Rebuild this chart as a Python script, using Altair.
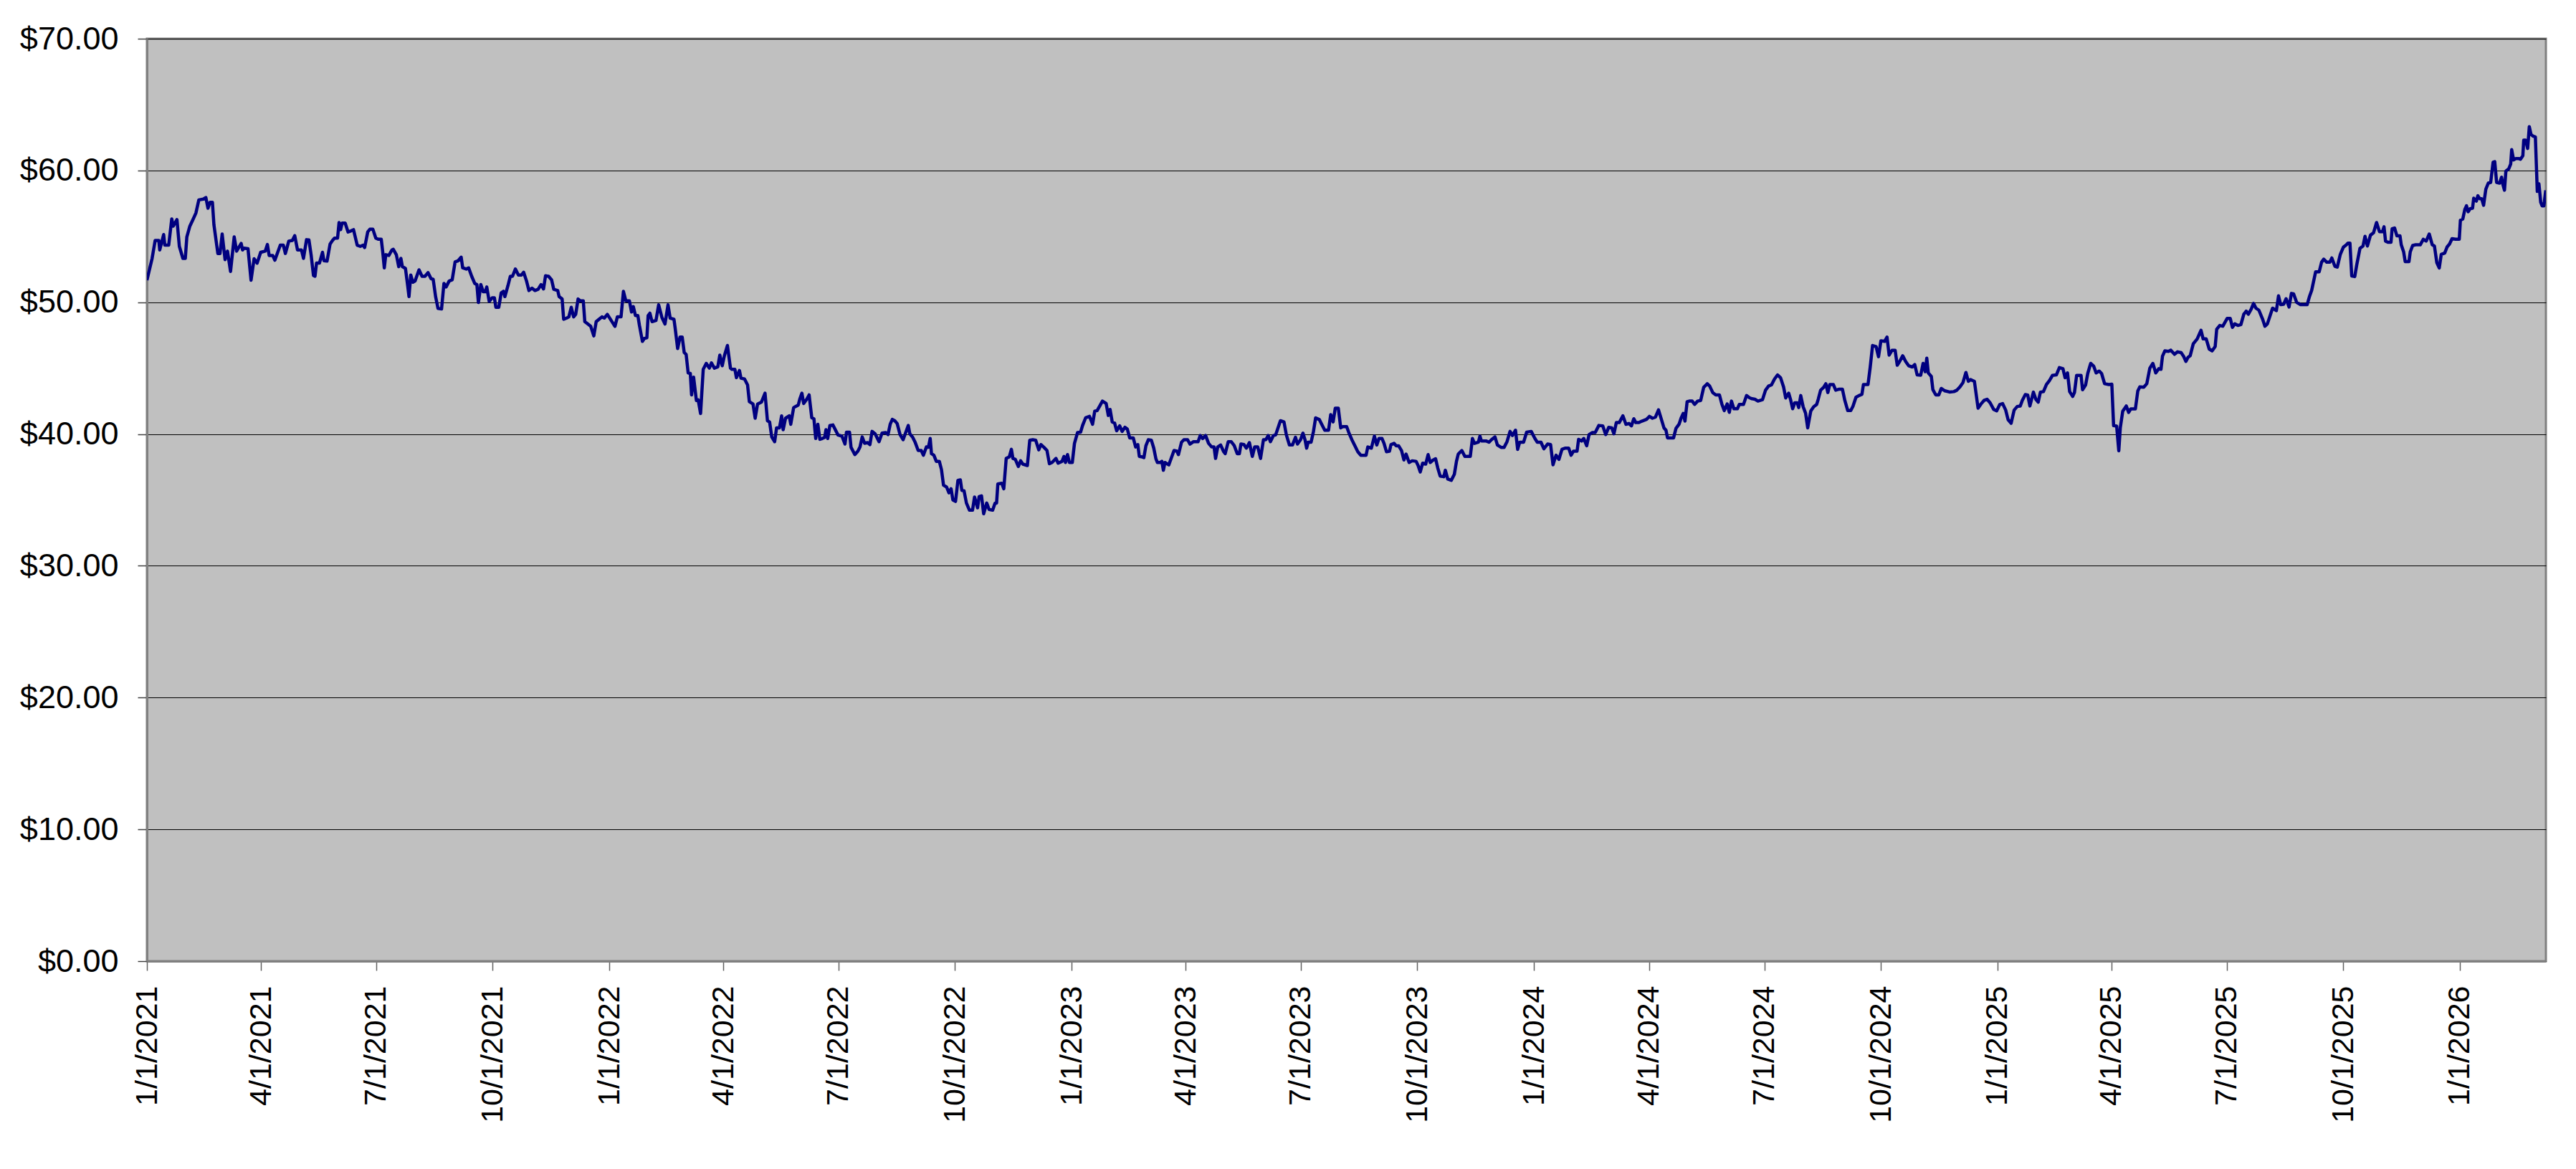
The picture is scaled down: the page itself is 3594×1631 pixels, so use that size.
import altair as alt
import pandas as pd

# Daily closing price; x = days since 1/1/2021
days_2021 = [0, 4.1, 6.5, 9.4, 10.1, 13.2, 14.1, 17.2, 19.6, 20.8, 23.7, 25.6, 28.4, 30.3, 31.5, 33.9, 36.3, 38.7,
             41.0, 44.6, 46.5, 48.2, 49.8, 51.7, 52.9, 56.0, 57.7, 59.4, 61.7, 63.6, 66.0, 68.9, 70.8, 74.4, 75.5,
             76.7, 79.8, 82.2, 84.6, 87.0, 89.8, 93.4, 95.1, 96.5, 99.3, 101.0, 105.3, 107.7, 109.3, 112.0, 114.8,
             116.7, 118.9, 122.0, 123.6, 126.0, 127.9, 129.6, 131.5, 132.7, 133.9, 136.2, 138.6, 139.8, 142.2,
             144.6, 146.5, 148.1, 150.5, 151.7, 152.9, 154.1, 156.5, 158.8, 161.2, 163.1, 166.0, 168.4, 170.7,
             171.9, 174.3, 176.0, 178.4, 180.7, 182.6, 185.0, 186.2, 187.4, 188.6, 191.0, 193.4, 194.5, 196.9,
             198.8, 200.5, 201.7, 204.1, 206.0, 206.9, 208.3, 210.0, 211.7, 214.8, 217.2, 219.5, 221.9, 224.3,
             226.0, 227.9, 229.8, 232.6, 234.5, 236.2, 238.6, 241.0, 243.3, 245.7, 248.1, 249.3, 252.1, 254.0,
             256.4, 258.8, 260.5, 261.7, 263.6, 265.5, 267.1, 268.3, 270.2, 272.6, 274.3, 275.5, 277.8, 279.7,
             281.4, 282.6, 285.0, 286.9, 288.6, 290.9, 293.3, 295.7, 297.4, 299.7, 301.6, 304.0, 306.4, 308.8,
             311.2, 313.1, 314.7, 317.1, 319.5, 321.2, 324.3, 325.4, 327.8, 329.0, 331.4, 333.1, 335.0, 336.9,
             338.5, 340.4, 342.1, 344.5, 345.7, 348.1, 350.4, 352.8, 354.7, 356.9, 359.2, 361.1, 363.5]
price_2021 = [51.67, 53.33, 54.69, 54.69, 53.97, 55.14, 54.33, 54.33, 56.32, 55.78, 56.27, 54.24, 53.33, 53.33,
              54.96, 55.78, 56.27, 56.78, 57.77, 57.83, 57.95, 57.14, 57.59, 57.59, 55.87, 53.70, 53.70, 55.18,
              53.24, 53.88, 52.34, 54.96, 53.88, 54.46, 53.97, 54.10, 54.06, 51.67, 53.30, 52.97, 53.79, 53.88,
              54.38, 53.55, 53.55, 53.19, 54.33, 54.33, 53.70, 54.64, 54.69, 55.05, 53.97, 53.97, 53.33, 54.75,
              54.73, 53.61, 52.03, 51.98, 52.97, 52.97, 53.79, 53.15, 53.12, 54.42, 54.69, 54.87, 54.87, 56.05,
              55.51, 56.01, 56.01, 55.33, 55.42, 55.51, 54.33, 54.24, 54.33, 54.15, 55.33, 55.54, 55.54, 54.87,
              54.78, 54.78, 53.79, 52.61, 53.61, 53.55, 53.97, 54.02, 53.61, 52.70, 53.33, 52.70, 52.57, 51.16,
              50.43, 52.07, 51.52, 51.61, 52.46, 51.97, 51.97, 52.25, 51.79, 51.74, 50.43, 49.53, 49.49, 51.43,
              51.16, 51.61, 51.70, 53.06, 53.15, 53.42, 52.61, 52.52, 52.61, 51.97, 51.43, 51.34, 49.98, 51.34,
              50.80, 50.80, 51.16, 50.07, 50.34, 50.34, 49.62, 49.62, 50.71, 50.83, 50.43, 51.25, 51.97, 51.97,
              52.52, 52.07, 52.07, 52.28, 51.61, 50.89, 51.07, 50.89, 50.98, 51.34, 51.01, 52.01, 51.97, 51.70,
              50.98, 50.89, 50.43, 50.25, 48.71, 48.80, 48.89, 49.62, 48.89, 49.08, 50.25, 50.11, 50.11, 48.53,
              48.35, 48.17, 47.45, 48.53, 48.71, 48.89, 48.80, 49.08]

days_2022 = [369.5, 371.4, 374.3, 376.2, 378.1, 380.9, 382.6, 384.0, 385.7, 387.6, 388.8, 391.2, 392.8, 394.7,
             395.7, 397.1, 398.8, 401.9, 404.0, 406.6, 409.0, 411.4, 413.1, 416.1, 417.1, 419.0, 420.9, 422.6,
             424.2, 425.7, 427.3, 429.0, 430.0, 431.6, 433.8, 435.2, 437.1, 439.2, 441.6, 444.0, 445.7, 448.0,
             450.7, 452.3, 454.2, 455.9, 458.3, 460.7, 461.8, 464.2, 465.4, 467.8, 469.0, 471.8, 474.2, 475.6,
             478.5, 480.2, 482.1, 485.2, 488.0, 489.9, 491.6, 493.3, 495.6, 497.1, 499.4, 501.1, 502.3, 504.2,
             507.1, 508.3, 510.6, 512.3, 514.2, 515.4, 517.1, 518.5, 520.9, 522.8, 524.9, 526.6, 528.0, 529.7,
             531.3, 533.2, 535.1, 536.1, 537.5, 539.2, 541.6, 543.2, 545.6, 548.7, 551.1, 552.3, 554.7, 555.9,
             558.9, 561.3, 563.0, 564.7, 566.6, 569.0, 570.8, 572.5, 574.9, 578.0, 580.4, 583.2, 585.1, 586.8,
             588.5, 590.4, 592.3, 594.6, 597.0, 598.7, 601.1, 602.3, 604.6, 606.5, 608.9, 611.3, 613.0, 615.4,
             617.0, 618.4, 619.4, 621.3, 623.2, 625.6, 627.3, 628.9, 631.3, 633.2, 634.9, 636.3, 638.4, 640.3,
             642.2, 643.4, 645.1, 647.0, 649.4, 651.8, 653.4, 655.8, 657.0, 658.9, 660.6, 663.0, 664.9, 667.7,
             669.6, 670.8, 671.8, 674.9, 676.5, 678.4, 680.8, 682.5, 683.7, 685.6, 688.0, 689.8, 691.5, 695.1,
             697.0, 699.4, 701.7, 704.1, 705.8, 708.2, 710.6, 712.5, 714.6, 717.7, 719.4, 722.5]
price_2022 = [48.17, 48.89, 48.89, 50.83, 50.11, 50.11, 49.26, 49.67, 48.99, 48.99, 48.26, 47.03, 47.26, 47.30,
              48.99, 49.17, 48.53, 48.62, 49.80, 48.84, 48.35, 49.80, 48.80, 48.71, 47.99, 46.49, 47.36, 47.36,
              46.18, 46.05, 44.64, 44.60, 42.97, 44.31, 42.55, 42.60, 41.56, 44.91, 45.36, 45.00, 45.40, 45.00,
              45.09, 45.99, 45.18, 45.94, 46.72, 45.00, 44.91, 44.91, 44.28, 44.82, 44.24, 44.18, 43.73, 42.46,
              42.28, 41.20, 42.28, 42.43, 43.10, 41.01, 40.92, 39.78, 39.42, 40.47, 40.47, 41.38, 40.33, 41.20,
              41.38, 40.74, 42.01, 42.10, 42.19, 42.64, 43.10, 42.32, 42.64, 42.97, 41.23, 41.16, 39.66, 40.74,
              39.60, 39.66, 39.75, 40.33, 39.66, 40.65, 40.69, 40.38, 39.93, 39.84, 39.24, 40.14, 40.14, 38.99,
              38.44, 38.70, 39.02, 39.78, 39.30, 39.35, 39.20, 40.20, 40.02, 39.42, 40.07, 40.11, 39.96, 40.74,
              41.11, 41.01, 40.80, 39.96, 39.57, 40.02, 40.65, 40.02, 39.75, 39.38, 38.75, 38.75, 38.39, 39.02,
              39.00, 39.66, 38.51, 38.39, 37.93, 37.93, 37.30, 36.12, 35.98, 35.54, 35.85, 35.00, 34.89, 36.49,
              36.52, 35.72, 35.70, 34.76, 34.22, 34.22, 35.22, 34.40, 35.25, 35.31, 33.95, 34.76, 34.28, 34.22,
              34.76, 34.76, 36.21, 36.27, 35.85, 38.15, 38.26, 38.84, 38.15, 38.08, 37.54, 37.97, 37.72, 37.61,
              39.53, 39.57, 39.53, 38.80, 39.20, 38.99, 38.75, 37.75, 37.84, 38.15, 37.79, 37.93]

days_2023 = [724.0, 725.2, 726.8, 728.3, 730.6, 732.3, 734.7, 737.1, 738.7, 741.1, 744.2, 746.6, 748.3, 750.2,
             752.1, 754.4, 757.3, 759.0, 760.4, 762.1, 764.0, 765.6, 768.0, 769.9, 772.1, 774.0, 775.9, 778.7,
             780.6, 782.3, 783.5, 785.9, 787.1, 788.7, 790.6, 793.0, 794.9, 796.6, 797.8, 800.1, 801.3, 802.5,
             803.7, 806.8, 808.5, 810.9, 813.2, 814.4, 816.8, 818.7, 821.6, 823.5, 826.3, 829.9, 831.6, 833.5,
             835.8, 838.2, 840.6, 842.5, 843.7, 845.4, 847.7, 850.1, 851.3, 853.7, 856.1, 858.5, 860.8, 862.5,
             863.7, 866.1, 868.0, 870.4, 872.7, 874.6, 877.0, 879.2, 881.5, 883.4, 885.3, 887.0, 889.4, 891.1,
             893.0, 894.9, 897.7, 899.6, 902.0, 904.4, 906.8, 908.4, 910.8, 912.7, 914.4, 915.6, 916.8, 919.1,
             921.0, 922.7, 925.6, 927.5, 929.9, 932.9, 934.6, 936.5, 938.2, 940.6, 942.5, 944.1, 947.2, 948.9,
             951.3, 953.7, 956.0, 958.4, 962.5, 963.9, 966.7, 969.1, 971.0, 972.7, 975.1, 976.7, 978.6, 981.0,
             982.2, 984.6, 986.3, 988.2, 990.5, 992.4, 994.1, 996.5, 998.9, 1002.0, 1003.6, 1005.3, 1007.2,
             1009.6, 1011.5, 1013.2, 1015.5, 1017.4, 1019.1, 1021.0, 1023.9, 1025.1, 1027.0, 1029.8, 1032.2,
             1033.9, 1035.3, 1038.1, 1040.5, 1044.8, 1046.5, 1048.1, 1051.2, 1052.4, 1053.6, 1057.2, 1059.6,
             1061.5, 1064.3, 1066.2, 1069.1, 1071.5, 1073.8, 1076.2, 1078.1, 1080.5, 1082.2, 1083.8, 1086.9,
             1089.3, 1092.9]
price_2023 = [38.30, 37.84, 38.44, 37.84, 37.84, 39.29, 40.11, 40.14, 40.65, 41.23, 41.34, 40.74, 41.74, 41.78,
              42.10, 42.50, 42.32, 41.41, 41.87, 40.92, 40.83, 40.25, 40.62, 40.20, 40.51, 40.38, 39.71, 39.71,
              39.02, 39.20, 38.30, 38.26, 38.21, 39.11, 39.57, 39.53, 38.93, 38.12, 37.84, 37.84, 37.93, 37.25,
              37.84, 37.66, 38.12, 38.75, 38.70, 38.44, 39.38, 39.57, 39.57, 39.24, 39.42, 39.42, 39.89, 39.66,
              39.89, 39.29, 39.02, 39.02, 38.15, 39.02, 39.17, 38.66, 38.51, 39.42, 39.42, 39.11, 38.51, 38.51,
              39.24, 39.20, 38.93, 39.35, 38.30, 39.02, 39.02, 38.15, 39.57, 39.57, 39.89, 39.42, 39.89, 39.93,
              40.47, 41.01, 40.92, 39.93, 39.17, 39.17, 39.75, 39.24, 39.57, 40.07, 39.53, 38.93, 39.38, 39.38,
              40.20, 41.23, 41.10, 40.74, 40.29, 40.29, 41.47, 40.92, 41.96, 41.96, 40.47, 40.56, 40.56, 40.11,
              39.57, 39.11, 38.66, 38.39, 38.39, 39.02, 38.93, 39.84, 39.17, 39.66, 39.66, 39.29, 38.66, 38.70,
              39.20, 39.29, 39.11, 39.11, 38.75, 38.03, 38.48, 37.84, 37.97, 37.93, 37.61, 37.12, 37.79,
              37.72, 38.44, 37.84, 38.03, 38.12, 37.43, 36.81, 36.76, 37.25, 36.58, 36.49, 36.94,
              37.93, 38.48, 38.75, 38.30, 38.30, 39.66, 39.29, 39.38, 39.84, 39.48, 39.48, 39.38,
              39.57, 39.78, 39.17, 38.99, 38.99, 39.42, 40.20, 39.89, 40.29, 38.84, 39.38, 39.38,
              40.14, 40.20]

days_2024 = [1095.8, 1097.7, 1100.6, 1102.9, 1105.8, 1108.2, 1110.1, 1112.5, 1114.8, 1117.2, 1119.6, 1122.5,
             1124.4, 1126.3, 1129.1, 1130.3, 1132.7, 1134.4, 1136.7, 1138.6, 1141.0, 1143.4, 1146.3, 1149.4,
             1151.7, 1154.1, 1156.5, 1158.2, 1160.1, 1162.4, 1165.3, 1167.7, 1170.1, 1172.0, 1173.9, 1175.5,
             1177.9, 1180.3, 1183.9, 1186.2, 1188.6, 1191.0, 1193.4, 1195.3, 1197.7, 1199.3, 1200.5, 1202.9,
             1205.3, 1207.2, 1209.6, 1211.2, 1212.9, 1214.3, 1216.0, 1217.7, 1220.0, 1221.9, 1224.3, 1226.7,
             1229.1, 1231.9, 1233.8, 1236.2, 1238.6, 1241.5, 1243.4, 1245.3, 1247.6, 1249.3, 1251.0, 1252.9,
             1255.7, 1257.2, 1260.5, 1262.9, 1265.3, 1267.2, 1269.5, 1271.9, 1275.5, 1277.9, 1280.3, 1282.6,
             1285.0, 1287.4, 1289.8, 1292.2, 1293.8, 1296.2, 1297.6, 1299.3, 1301.0, 1302.9, 1304.1, 1305.7,
             1307.6, 1309.5, 1311.2, 1313.6, 1315.9, 1318.3, 1319.5, 1321.4, 1323.8, 1325.5, 1327.1, 1328.6,
             1331.4, 1333.3, 1335.7, 1338.6, 1340.5, 1342.8, 1345.2, 1346.9, 1349.3, 1351.7, 1354.0, 1355.2,
             1358.8, 1360.5, 1362.4, 1365.2, 1367.1, 1369.0, 1371.9, 1373.8, 1375.5, 1377.8, 1380.2, 1381.9,
             1383.8, 1386.2, 1388.5, 1390.9, 1393.8, 1395.7, 1397.6, 1400.4, 1402.3, 1404.0, 1405.2, 1406.4,
             1408.8, 1410.0, 1412.3, 1414.7, 1416.6, 1419.5, 1423.1, 1426.6, 1429.0, 1431.4, 1433.8, 1436.1,
             1438.0, 1439.7, 1442.8, 1445.7, 1448.0, 1450.4, 1452.8, 1455.2]
price_2024 = [39.66, 39.38, 39.38, 38.88, 39.24, 39.20, 37.66, 38.39, 38.08, 38.84, 38.93, 38.93,
              38.39, 38.70, 38.70, 39.60, 39.47, 39.66, 39.11, 39.96, 40.11, 40.11, 40.65, 40.62,
              39.96, 40.51, 40.47, 40.02, 40.87, 40.87, 41.38, 40.74, 40.80, 40.62, 41.16, 40.87,
              40.87, 40.98, 41.11, 41.34, 41.20, 41.29, 41.83, 41.23, 40.47, 40.29, 39.71, 39.71,
              39.71, 40.43, 40.74, 41.20, 41.56, 40.98, 42.46, 42.50, 42.50, 42.25, 42.50, 42.55,
              43.55, 43.82, 43.64, 43.15, 42.97, 42.97, 42.28, 41.78, 42.28, 41.65, 42.50, 41.92,
              41.92, 42.25, 42.25, 42.92, 42.75, 42.68, 42.64, 42.50, 42.61, 43.33, 43.64, 43.73,
              44.18, 44.49, 44.27, 43.55, 42.74, 43.10, 42.64, 41.92, 42.37, 42.37, 42.01, 42.92,
              42.07, 41.59, 40.47, 41.74, 42.07, 42.25, 42.64, 43.33, 43.55, 43.82, 43.15, 43.76,
              43.76, 43.33, 43.40, 43.40, 42.55, 41.78, 41.78, 42.10, 42.79, 42.92, 43.01, 43.76,
              43.76, 45.04, 46.72, 46.63, 45.87, 47.08, 47.03, 47.36, 45.99, 46.36, 46.36, 45.22,
              45.51, 45.94, 45.51, 45.18, 45.09, 45.27, 44.49, 44.46, 45.36, 44.73, 45.76, 44.64,
              44.37, 43.37, 42.97, 42.97, 43.46, 43.28, 43.19, 43.22, 43.33, 43.58, 43.91, 44.67,
              44.00, 44.13, 44.00, 41.96, 42.28, 42.55, 42.64, 42.37]

days_2025 = [1458.0, 1460.4, 1462.8, 1465.1, 1467.5, 1469.4, 1471.8, 1474.2, 1476.6, 1479.0, 1480.6, 1483.0,
             1484.9, 1486.6, 1489.4, 1491.3, 1493.2, 1494.9, 1497.3, 1499.7, 1502.0, 1504.4, 1507.5, 1509.9,
             1512.7, 1514.4, 1516.3, 1518.0, 1520.4, 1521.8, 1523.5, 1527.0, 1528.2, 1530.6, 1532.3, 1534.6,
             1537.0, 1538.9, 1541.3, 1543.2, 1545.6, 1548.9, 1551.3, 1552.7, 1555.1, 1556.8, 1558.0, 1559.9,
             1562.7, 1564.6, 1566.3, 1569.9, 1571.8, 1573.4, 1576.5, 1578.9, 1581.3, 1583.7, 1586.0, 1588.4,
             1590.1, 1591.3, 1593.2, 1596.0, 1597.9, 1600.8, 1603.2, 1606.0, 1607.9, 1609.8, 1611.5, 1613.2,
             1615.6, 1618.7, 1621.7, 1623.4, 1625.8, 1628.2, 1630.5, 1632.9, 1634.1, 1636.5, 1638.9, 1642.4,
             1644.8, 1646.5, 1648.4, 1650.8, 1653.2, 1655.5, 1657.4, 1659.1, 1661.5, 1663.2, 1665.1, 1667.4,
             1670.3, 1672.2, 1674.1, 1675.8, 1678.2, 1681.2, 1682.9, 1684.6, 1687.0, 1688.9, 1691.2, 1693.1,
             1694.8, 1697.2, 1700.3, 1705.5, 1707.4, 1709.1, 1712.2, 1715.0, 1716.9, 1718.6, 1721.0, 1723.4,
             1725.0, 1727.4, 1729.3, 1731.7, 1734.1, 1736.5, 1737.7, 1739.3, 1740.7, 1743.1, 1744.8, 1747.2,
             1749.6, 1751.2, 1753.1, 1755.5, 1757.9, 1760.3, 1762.6, 1765.0, 1766.2, 1767.4, 1769.3, 1771.7,
             1772.6, 1774.5, 1776.4, 1778.8, 1779.8, 1781.7, 1782.9, 1785.9, 1786.9, 1788.8, 1791.2, 1794.8,
             1797.2, 1799.5, 1801.9, 1804.3, 1806.0, 1807.9, 1809.8, 1811.4]
price_2025 = [41.87, 41.76, 42.24, 42.31, 41.82, 41.09, 40.82, 41.82, 42.09, 42.13, 42.55, 43.00,
              42.96, 42.13, 43.18, 42.64, 42.42, 43.18, 43.22, 43.76, 44.05, 44.45, 44.49, 45.04,
              44.96, 44.27, 44.64, 43.22, 42.85, 43.15, 44.45, 44.45, 43.36, 43.73, 44.60, 45.36,
              45.15, 44.64, 44.78, 44.60, 43.82, 43.76, 43.78, 40.64, 40.60, 38.73, 40.49, 41.73,
              42.13, 41.64, 41.91, 41.91, 43.27, 43.58, 43.55, 43.82, 45.00, 45.36, 44.64, 44.96,
              44.91, 45.91, 46.31, 46.27, 46.36, 46.05, 46.24, 46.18, 45.91, 45.51, 45.82, 45.95,
              46.85, 47.22, 47.87, 47.22, 47.22, 46.45, 46.31, 46.64, 47.95, 48.24, 48.18, 48.78,
              48.78, 48.09, 48.36, 48.24, 48.31, 49.09, 49.33, 49.09, 49.51, 49.91, 49.55, 49.40,
              48.73, 48.18, 48.36, 48.85, 49.55, 49.36, 50.49, 49.82, 49.85, 50.27, 49.64, 50.67,
              50.64, 50.00, 49.82, 49.82, 50.45, 50.91, 52.31, 52.31, 53.04, 53.27, 53.04, 53.04,
              53.36, 52.73, 52.67, 53.64, 54.18, 54.36, 54.49, 54.49, 52.00, 51.95, 52.91, 54.09,
              54.27, 55.00, 54.27, 55.09, 55.27, 56.05, 55.36, 55.36, 55.73, 54.64, 54.55, 54.55,
              55.58, 55.64, 55.04, 55.04, 54.36, 53.82, 53.09, 53.09, 53.82, 54.31, 54.36, 54.36,
              54.78, 54.64, 55.18, 54.36, 54.27, 53.00, 52.60, 53.64]

days_2026 = [1814.1, 1816.0, 1817.9, 1819.9, 1822.7, 1825.6, 1826.5, 1828.4, 1830.0, 1831.3, 1832.6, 1834.2,
             1836.1, 1837.0, 1839.1, 1840.3, 1841.8, 1843.3, 1844.8, 1846.6, 1848.5, 1850.4, 1852.3, 1853.6,
             1855.1, 1857.4, 1859.0, 1859.9, 1861.3, 1862.4, 1864.7, 1866.2, 1867.0, 1868.5, 1870.4, 1872.3,
             1873.9, 1875.8, 1876.5, 1878.0, 1879.6, 1880.9, 1882.2, 1883.8, 1885.7, 1887.2, 1888.5, 1889.9,
             1891.0, 1892.4, 1893.9]
price_2026 = [53.73, 54.20, 54.42, 54.82, 54.78, 54.78, 56.23, 56.32, 57.05, 57.32, 56.87, 57.10,
              57.14, 57.90, 57.68, 58.08, 57.86, 57.86, 57.36, 58.59, 59.04, 59.09, 60.62, 60.67,
              59.09, 59.04, 59.49, 58.99, 58.50, 59.95, 60.13, 60.49, 61.58, 60.80, 60.91, 60.91,
              60.85, 61.12, 62.30, 62.30, 61.67, 63.33, 62.75, 62.61, 62.54, 58.41, 58.99, 57.59,
              57.32, 57.32, 58.50]

# Quarterly tick dates (year, month) and y-axis tick values
tick_quarters = [(y, m) for y in range(2021, 2027) for m in (1, 4, 7, 10) if (y, m) <= (2026, 1)]
y_ticks = [0, 10, 20, 30, 40, 50, 60, 70]

days = days_2021 + days_2022 + days_2023 + days_2024 + days_2025 + days_2026
prices = price_2021 + price_2022 + price_2023 + price_2024 + price_2025 + price_2026
start = pd.Timestamp("2021-01-01")
dates = [(start + pd.Timedelta(days=d)).strftime("%Y-%m-%dT%H:%M:%S") for d in days]
df = pd.DataFrame({"date": dates, "price": prices})

FONT = "Liberation Sans"

chart = alt.Chart(df).mark_line(color="#000080", strokeWidth=4.5, strokeJoin="round", clip=True).encode(
    x=alt.X(
        "date:T",
        scale=alt.Scale(
            domain=[alt.DateTime(year=2021, month=1, date=1), alt.DateTime(year=2026, month=3, date=10)],
            nice=False,
        ),
        axis=alt.Axis(
            values=[alt.DateTime(year=y, month=m, date=1) for (y, m) in tick_quarters],
            format="%-m/%-d/%Y",
            labelAngle=270,
            labelAlign="right",
            labelBaseline="middle",
            labelFont=FONT,
            labelFontSize=43,
            labelColor="#000000",
            labelPadding=21,
            labelLimit=0,
            labelFlush=False,
            labelOverlap=False,
            tickSize=13,
            tickColor="#606060",
            tickWidth=1.5,
            domainColor="#808080",
            domainWidth=3,
            grid=False,
            title=None,
        ),
    ),
    y=alt.Y(
        "price:Q",
        scale=alt.Scale(domain=[0, 70], nice=False),
        axis=alt.Axis(
            values=y_ticks,
            format="$,.2f",
            labelFont=FONT,
            labelFontSize=45,
            labelColor="#000000",
            labelPadding=27,
            labelLimit=0,
            tickSize=13,
            tickColor="#404040",
            tickWidth=1.5,
            domainColor="#808080",
            domainWidth=3,
            grid=True,
            gridColor="#000000",
            gridWidth=1.2,
            title=None,
        ),
    ),
).properties(
    width=3347,
    height=1287,
    padding={"left": 197, "top": 46, "right": 30, "bottom": 270},
    autosize=alt.AutoSizeParams(type="none"),
    background="#ffffff",
).configure_view(
    fill="#C0C0C0",
    stroke="#808080",
    strokeWidth=3,
)

chart.save("out.html", embed_options={"renderer": "svg", "actions": False})
